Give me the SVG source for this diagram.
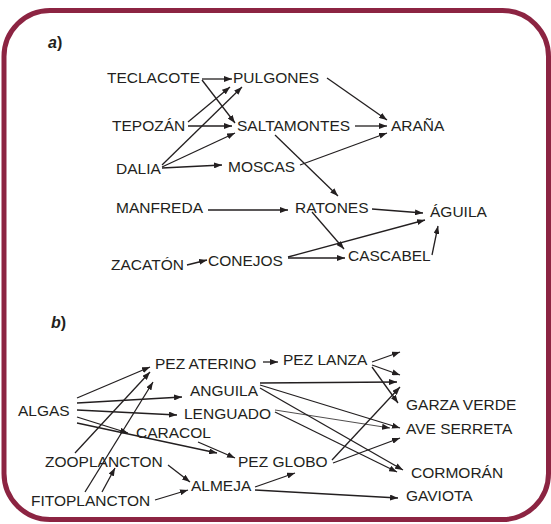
<svg xmlns="http://www.w3.org/2000/svg" width="551" height="524" viewBox="0 0 551 524">
<defs>
<marker id="ah" viewBox="0 0 8 6" refX="8" refY="3" markerWidth="8" markerHeight="6" markerUnits="userSpaceOnUse" orient="auto">
<path d="M0,0 L8,3 L0,6 z" fill="#231f20"/>
</marker>
<style>
text{font-family:"Liberation Sans",Arial,Helvetica,sans-serif;font-size:15.5px;fill:#231f20}
.lbl{font-weight:bold;font-style:italic;font-size:16px}
.c line{stroke:#231f20;stroke-width:1.3;marker-end:url(#ah)}
.c line.thin{stroke-width:0.8}
</style>
</defs>
<rect x="0" y="0" width="551" height="524" fill="#ffffff"/>
<rect x="4" y="10.5" width="544.5" height="509" rx="46" ry="46" fill="#ffffff" stroke="#8c2442" stroke-width="5"/>

<text class="lbl" x="48" y="48">a<tspan font-style="normal">)</tspan></text>
<text class="lbl" x="51" y="328">b<tspan font-style="normal">)</tspan></text>

<g id="teclacote"><text x="107" y="83">TECLACOTE</text></g>
<g id="pulgones"><text x="233" y="83">PULGONES</text></g>
<g id="tepozan"><text x="112" y="131">TEPOZÁN</text></g>
<g id="saltamontes"><text x="237" y="131">SALTAMONTES</text></g>
<g id="arana"><text x="391" y="131">ARAÑA</text></g>
<g id="dalia"><text x="116" y="174">DALIA</text></g>
<g id="moscas"><text x="228" y="172">MOSCAS</text></g>
<g id="manfreda"><text x="116" y="213">MANFREDA</text></g>
<g id="ratones"><text x="295" y="213">RATONES</text></g>
<g id="aguila"><text x="430" y="217">ÁGUILA</text></g>
<g id="cascabel"><text x="348" y="261">CASCABEL</text></g>
<g id="conejos"><text x="208" y="266">CONEJOS</text></g>
<g id="zacaton"><text x="111" y="270">ZACATÓN</text></g>

<g id="pez-aterino"><text x="155" y="369">PEZ ATERINO</text></g>
<g id="pez-lanza"><text x="283" y="365">PEZ LANZA</text></g>
<g id="anguila"><text x="190" y="396">ANGUILA</text></g>
<g id="algas"><text x="18" y="416">ALGAS</text></g>
<g id="lenguado"><text x="184" y="419">LENGUADO</text></g>
<g id="caracol"><text x="136" y="438">CARACOL</text></g>
<g id="zooplancton"><text x="45" y="467">ZOOPLANCTON</text></g>
<g id="pez-globo"><text x="238" y="467">PEZ GLOBO</text></g>
<g id="almeja"><text x="191" y="491">ALMEJA</text></g>
<g id="fitoplancton"><text x="31" y="506">FITOPLANCTON</text></g>
<g id="garza-verde"><text x="406" y="410">GARZA VERDE</text></g>
<g id="ave-serreta"><text x="406" y="434">AVE SERRETA</text></g>
<g id="cormoran"><text x="411" y="478">CORMORÁN</text></g>
<g id="gaviota"><text x="406" y="501">GAVIOTA</text></g>

<g id="connectors" class="c">
<line x1="202" y1="79" x2="232" y2="79"/>
<line x1="202" y1="80" x2="235" y2="123"/>
<line x1="188" y1="122" x2="230" y2="87"/>
<line x1="188" y1="126" x2="232" y2="126"/>
<line x1="162" y1="165" x2="242" y2="87"/>
<line x1="162" y1="167" x2="235" y2="133"/>
<line x1="162" y1="168" x2="222" y2="165"/>
<line x1="327" y1="78" x2="387" y2="120"/>
<line x1="355" y1="126" x2="387" y2="126"/>
<line x1="300" y1="165" x2="387" y2="133"/>
<line x1="275" y1="135" x2="338" y2="196"/>
<line x1="208" y1="210" x2="288" y2="210"/>
<line x1="372" y1="209" x2="423" y2="213"/>
<line x1="312" y1="212" x2="344" y2="249"/>
<line x1="288" y1="257" x2="425" y2="220"/>
<line x1="288" y1="258" x2="345" y2="258"/>
<line x1="187" y1="265" x2="207" y2="260"/>
<line x1="432" y1="255" x2="438" y2="226"/>

<line x1="77" y1="398" x2="150" y2="367"/>
<line x1="77" y1="403" x2="182" y2="397"/>
<line x1="77" y1="410" x2="177" y2="415"/>
<line x1="77" y1="417" x2="128" y2="433"/>
<line x1="77" y1="423" x2="217" y2="453"/>
<line x1="75" y1="453" x2="150" y2="372"/>
<line x1="85" y1="492" x2="153" y2="382"/>
<line x1="102" y1="492" x2="115" y2="468"/>
<line x1="168" y1="465" x2="190" y2="482"/>
<line x1="155" y1="500" x2="188" y2="490"/>
<line x1="198" y1="442" x2="235" y2="458"/>
<line x1="263" y1="362" x2="278" y2="362"/>
<line x1="372" y1="362" x2="400" y2="352"/>
<line x1="372" y1="365" x2="400" y2="375"/>
<line x1="372" y1="367" x2="398" y2="403"/>
<line x1="260" y1="383" x2="397" y2="382"/>
<line x1="260" y1="385" x2="400" y2="428"/>
<line x1="260" y1="388" x2="403" y2="470"/>
<line class="thin" x1="275" y1="410" x2="390" y2="428"/>
<line x1="275" y1="412" x2="397" y2="472"/>
<line x1="332" y1="460" x2="400" y2="387"/>
<line x1="333" y1="463" x2="400" y2="438"/>
<line x1="255" y1="487" x2="295" y2="473"/>
<line x1="255" y1="490" x2="398" y2="498"/>
</g>
</svg>
